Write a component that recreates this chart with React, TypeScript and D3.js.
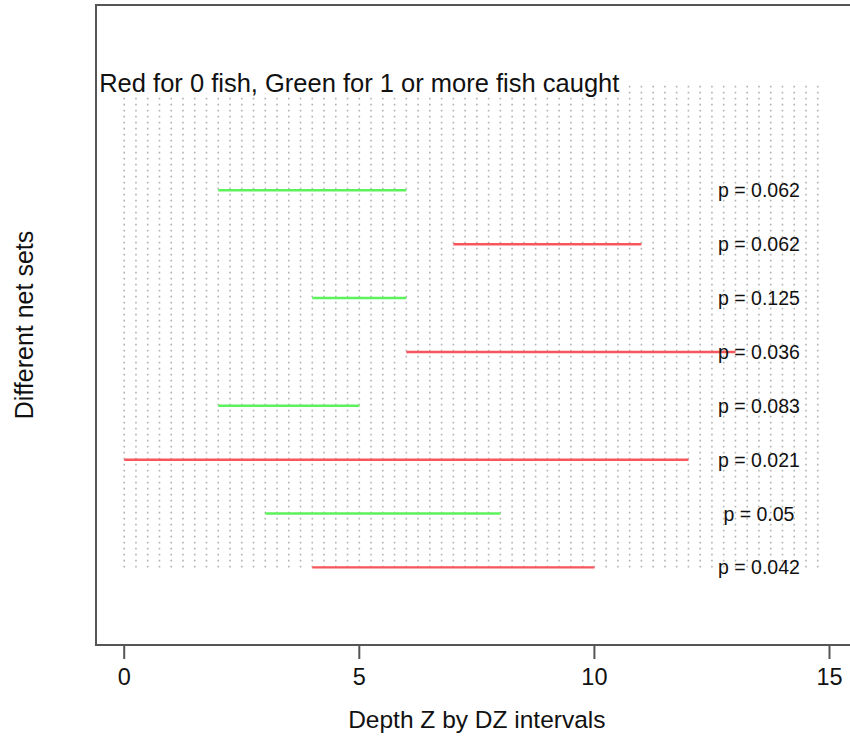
import React from "react";
import * as d3 from "d3";

const netSets = [1, 2, 3, 4, 5, 6, 7, 8];
const depthStart = [4, 3, 0, 2, 6, 4, 7, 2];
const depthEnd = [10, 8, 12, 5, 13, 6, 11, 6];
const fishCaught = [0, 1, 0, 1, 0, 1, 0, 1];
const pValues = ["0.042", "0.05", "0.021", "0.083", "0.036", "0.125", "0.062", "0.062"];
const xTicks = [0, 5, 10, 15];
const gridXs = d3.range(0, 15, 0.25);

const W = 850;
const H = 736;
const FONT = "'Liberation Sans', Arial, sans-serif";

export default function App() {
  const x = d3.scaleLinear().domain([-0.6, 15.6]).range([96, 857.7]);
  const y = d3.scaleLinear().domain([-0.44, 11.44]).range([645, 5]);
  const left = x(-0.6);
  const right = x(15.6);
  const top = y(11.44);
  const bottom = y(-0.44);

  return (
    <svg width={W} height={H} style={{ position: "absolute", left: 0, top: 0, background: "#fff" }} fontFamily={FONT}>
      {/* dotted vertical grid */}
      <g stroke="#b4b4b4" strokeWidth={1.6} strokeDasharray="1.6 4.4">
        {gridXs.map((g, i) => (
          <line key={i} x1={x(g)} x2={x(g)} y1={y(1)} y2={y(10)} />
        ))}
      </g>
      {/* title with white background */}
      <rect x={x(5) - 262} y={y(10) - 13} width={524} height={24} fill="#fff" />
      <text x={x(5)} y={y(10)} textAnchor="middle" dominantBaseline="central" fontSize={25.5} fill="#111">
        Red for 0 fish, Green for 1 or more fish caught
      </text>
      {/* segments */}
      <g strokeWidth={2.4}>
        {netSets.map((s, i) => (
          <line
            key={s}
            x1={x(depthStart[i])}
            x2={x(depthEnd[i])}
            y1={y(s)}
            y2={y(s)}
            stroke={fishCaught[i] > 0 ? "#5cf25c" : "#f7575c"}
          />
        ))}
      </g>
      {/* p labels */}
      {netSets.map((s, i) => (
        <text key={s} x={x(13.5)} y={y(s)} textAnchor="middle" dominantBaseline="central" fontSize={19.5} fill="#111">
          {`p = ${pValues[i]}`}
        </text>
      ))}
      {/* box */}
      <rect x={left} y={top} width={right - left} height={bottom - top} fill="none" stroke="#555" strokeWidth={2} />
      {/* x axis ticks */}
      {xTicks.map((t) => (
        <g key={t}>
          <line x1={x(t)} x2={x(t)} y1={bottom} y2={bottom + 14} stroke="#555" strokeWidth={2} />
          <text x={x(t)} y={bottom + 32} textAnchor="middle" dominantBaseline="central" fontSize={23.5} fill="#111">
            {t}
          </text>
        </g>
      ))}
      <text x={(left + right) / 2} y={719} textAnchor="middle" dominantBaseline="central" fontSize={24.5} fill="#111">
        Depth Z by DZ intervals
      </text>
      <text
        transform={`translate(24, ${(top + bottom) / 2}) rotate(-90)`}
        textAnchor="middle"
        dominantBaseline="central"
        fontSize={25}
        fill="#111"
      >
        Different net sets
      </text>
    </svg>
  );
}
